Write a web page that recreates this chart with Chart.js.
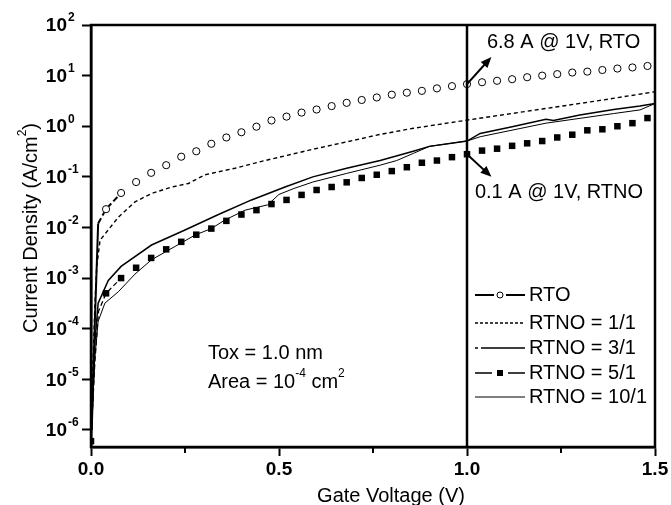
<!DOCTYPE html>
<html>
<head>
<meta charset="utf-8">
<script src="https://cdn.jsdelivr.net/npm/chart.js@4.4.1/dist/chart.umd.min.js"></script>
<style>
html,body{margin:0;padding:0;background:#fff;}
</style>
</head>
<body>
<canvas id="chart1" width="671" height="505"></canvas>
<script>
// RTO: open circles every 0.04 V (first 3 points are the short line near 0 V)
var rtoV = [0.002,0.01,0.019,0.04,0.08,0.12,0.16,0.20,0.24,0.28,0.32,0.36,0.40,0.44,0.48,0.52,0.56,0.60,0.64,0.68,0.72,0.76,0.80,0.84,0.88,0.92,0.96,1.00,1.04,1.08,1.12,1.16,1.20,1.24,1.28,1.32,1.36,1.40,1.44,1.48];
var rtoJ = [1e-6,1.2e-4,0.012,0.023,0.048,0.079,0.12,0.17,0.25,0.32,0.45,0.60,0.76,0.98,1.3,1.55,1.86,2.14,2.5,2.9,3.3,3.7,4.2,4.6,5.0,5.6,6.2,6.8,7.4,7.9,8.5,9.3,10.0,10.7,11.5,12.0,12.9,13.8,14.5,15.5];

// RTNO = 1/1 (dashed)
var r11V = [0,0.005,0.01,0.015,0.024,0.073,0.117,0.161,0.215,0.259,0.303,0.383,0.463,0.516,0.59,0.68,0.769,0.857,1.0,1.2,1.35,1.5];
var r11J = [6e-7,1.6e-5,2.5e-4,1.6e-3,5.6e-3,0.016,0.032,0.047,0.063,0.074,0.11,0.148,0.21,0.26,0.35,0.49,0.69,0.91,1.32,2.19,3.2,4.8];

// RTNO = 3/1
var r31V = [0,0.01,0.019,0.046,0.08,0.161,0.25,0.339,0.427,0.516,0.59,0.68,0.769,0.857,0.90,1.0,1.035,1.12,1.21,1.23,1.30,1.39,1.46,1.5];
var r31J = [6e-7,5e-5,3.2e-4,9e-4,1.7e-3,4.5e-3,8.9e-3,0.018,0.035,0.063,0.10,0.148,0.21,0.32,0.40,0.51,0.72,0.98,1.38,1.3,1.66,2.14,2.5,2.8];

// RTNO = 5/1: filled squares every 0.04 V (index 1,2 only carry the line near 0 V)
var r51V = [0,0.01,0.02,0.04,0.08,0.12,0.16,0.20,0.24,0.28,0.32,0.36,0.40,0.44,0.48,0.52,0.56,0.60,0.64,0.68,0.72,0.76,0.80,0.84,0.88,0.92,0.96,1.00,1.04,1.08,1.12,1.16,1.20,1.24,1.28,1.32,1.36,1.40,1.44,1.48];
var r51J = [6e-7,2e-5,2.2e-4,5.0e-4,1.0e-3,1.6e-3,2.5e-3,3.7e-3,5.2e-3,7.2e-3,9.5e-3,0.0135,0.018,0.022,0.029,0.035,0.044,0.055,0.063,0.078,0.095,0.11,0.13,0.155,0.19,0.21,0.245,0.28,0.33,0.36,0.41,0.46,0.51,0.60,0.68,0.83,0.87,1.0,1.15,1.45];

// RTNO = 10/1
var r101V = [0,0.01,0.019,0.037,0.073,0.117,0.161,0.223,0.277,0.32,0.356,0.41,0.47,0.5,0.54,0.59,0.68,0.769,0.813,0.857,0.90,1.0,1.035,1.21,1.39,1.46,1.5];
var r101J = [6e-7,2.5e-5,1.4e-4,3.2e-4,5.4e-4,1.2e-3,2.3e-3,4.2e-3,7.1e-3,9.5e-3,0.014,0.022,0.028,0.045,0.059,0.079,0.117,0.17,0.21,0.29,0.40,0.51,0.62,1.15,1.78,2.1,2.8];

var decades = [1e-6,1e-5,1e-4,1e-3,1e-2,1e-1,1,10,100];
var decadeExp = ['-6','-5','-4','-3','-2','-1','0','1','2'];
var xMinor = [0.25,0.75,1.25];
var markV = 1.0;          // vertical line
var rtoAt1 = 6.8, rtnoAt1 = 0.28;

Chart.defaults.font.family = "'Liberation Sans', Arial, sans-serif";
Chart.defaults.color = '#000';

function pts(vs, js){
    return vs.map(function(v, i){ return {x: v, y: js[i]}; });
}

// text with superscripts: parts = [[text, isSup], ...]
function richWidth(ctx, parts, size, weight){
    var w = 0;
    parts.forEach(function(p){
        ctx.font = weight + ' ' + (p[1] ? Math.round(size*0.62) : size) + "px 'Liberation Sans', Arial, sans-serif";
        w += ctx.measureText(p[0]).width;
    });
    return w;
}
function drawRich(ctx, parts, x, y, size, weight){
    ctx.textBaseline = 'middle';
    ctx.textAlign = 'left';
    parts.forEach(function(p){
        var s = p[1] ? Math.round(size*0.62) : size;
        ctx.font = weight + ' ' + s + "px 'Liberation Sans', Arial, sans-serif";
        ctx.fillText(p[0], x, p[1] ? y - size*0.42 : y);
        x += ctx.measureText(p[0]).width;
    });
}
function arrow(ctx, x0, y0, x1, y1){
    var ang = Math.atan2(y1 - y0, x1 - x0), L = 11, W = 4.5;
    ctx.beginPath(); ctx.moveTo(x0, y0);
    ctx.lineTo(x1 - L*0.8*Math.cos(ang), y1 - L*0.8*Math.sin(ang)); ctx.stroke();
    ctx.beginPath(); ctx.moveTo(x1, y1);
    ctx.lineTo(x1 - L*Math.cos(ang) + W*Math.sin(ang), y1 - L*Math.sin(ang) - W*Math.cos(ang));
    ctx.lineTo(x1 - L*Math.cos(ang) - W*Math.sin(ang), y1 - L*Math.sin(ang) + W*Math.cos(ang));
    ctx.closePath(); ctx.fill();
}

var decor = {
    id: 'decor',
    afterDraw: function(chart){
        var ctx = chart.ctx, a = chart.chartArea, xs = chart.scales.x, ys = chart.scales.y;
        ctx.save();
        ctx.fillStyle = '#000'; ctx.strokeStyle = '#000';

        // frame
        ctx.lineWidth = 2.5;
        ctx.strokeRect(a.left, a.top, a.right - a.left, a.bottom - a.top);

        // minor x ticks
        ctx.lineWidth = 2;
        xMinor.forEach(function(v){
            var px = xs.getPixelForValue(v);
            ctx.beginPath(); ctx.moveTo(px, a.bottom); ctx.lineTo(px, a.bottom + 6); ctx.stroke();
        });

        // y tick labels 10^n
        decades.forEach(function(v, i){
            var py = ys.getPixelForValue(v);
            ctx.font = "bold 19px 'Liberation Sans', Arial, sans-serif";
            ctx.textAlign = 'right'; ctx.textBaseline = 'middle';
            ctx.fillText('10', a.left - 24, py + 1);
            ctx.font = "bold 12px 'Liberation Sans', Arial, sans-serif";
            ctx.textAlign = 'left';
            ctx.fillText(decadeExp[i], a.left - 23, py - 7);
        });

        // axis titles
        ctx.fillStyle = '#000';
        var xt = [['Gate Voltage (V)', false]];
        var wx = richWidth(ctx, xt, 20, 'normal');
        drawRich(ctx, xt, 391 - wx/2, a.bottom + 49, 20, 'normal');
        var yt = [['Current Density (A/cm', false], ['2', true], [')', false]];
        var wy = richWidth(ctx, yt, 20, 'normal');
        ctx.save();
        ctx.translate(31, 228); ctx.rotate(-Math.PI/2);
        drawRich(ctx, yt, -wy/2, 0, 20, 'normal');
        ctx.restore();

        // vertical line at 1 V
        var x1 = xs.getPixelForValue(markV);
        ctx.lineWidth = 2.5;
        ctx.beginPath(); ctx.moveTo(x1, a.top); ctx.lineTo(x1, a.bottom); ctx.stroke();

        // arrows + notes
        ctx.lineWidth = 2;
        arrow(ctx, x1, ys.getPixelForValue(rtoAt1), xs.getPixelForValue(1.065), ys.getPixelForValue(23.4));
        arrow(ctx, x1, ys.getPixelForValue(rtnoAt1), xs.getPixelForValue(1.065), ys.getPixelForValue(0.1));
        drawRich(ctx, [['6.8 A @ 1V, RTO', false]], xs.getPixelForValue(1.053), ys.getPixelForValue(44.7), 20, 'normal');
        drawRich(ctx, [['0.1 A @ 1V, RTNO', false]], xs.getPixelForValue(1.021), ys.getPixelForValue(0.05), 20, 'normal');

        drawRich(ctx, [['Tox = 1.0 nm', false]], xs.getPixelForValue(0.311), ys.getPixelForValue(3.3e-5), 20, 'normal');
        drawRich(ctx, [['Area = 10', false], ['-4', true], [' cm', false], ['2', true]],
            xs.getPixelForValue(0.311), ys.getPixelForValue(8.7e-6), 20, 'normal');

        // legend
        var rows = [270, 298, 323, 348, 372];
        var lx0 = x1 + 8, lx1 = x1 + 58, tx = x1 + 62;
        var names = ['RTO', 'RTNO = 1/1', 'RTNO = 3/1', 'RTNO = 5/1', 'RTNO = 10/1'];
        rows.forEach(function(r, i){
            var y = a.top + r;
            ctx.setLineDash([]);
            if (i === 0) {
                ctx.lineWidth = 2;
                ctx.beginPath(); ctx.moveTo(lx0, y); ctx.lineTo(lx0 + 19, y);
                ctx.moveTo(lx1 - 19, y); ctx.lineTo(lx1, y); ctx.stroke();
                ctx.lineWidth = 1; ctx.fillStyle = '#fff';
                ctx.beginPath(); ctx.arc((lx0 + lx1)/2, y, 3, 0, Math.PI*2); ctx.fill(); ctx.stroke();
                ctx.fillStyle = '#000';
            } else if (i === 1) {
                ctx.lineWidth = 1.3; ctx.setLineDash([3, 2]);
                ctx.beginPath(); ctx.moveTo(lx0, y); ctx.lineTo(lx1, y); ctx.stroke();
            } else if (i === 2) {
                ctx.lineWidth = 1.5;
                ctx.beginPath(); ctx.moveTo(lx0, y); ctx.lineTo(lx0 + 3, y);
                ctx.moveTo(lx0 + 6, y); ctx.lineTo(lx1, y); ctx.stroke();
            } else if (i === 3) {
                ctx.lineWidth = 1.3;
                ctx.beginPath(); ctx.moveTo(lx0, y); ctx.lineTo(lx0 + 17, y);
                ctx.moveTo(lx1 - 17, y); ctx.lineTo(lx1, y); ctx.stroke();
                ctx.fillRect((lx0 + lx1)/2 - 3, y - 3, 6, 6);
            } else {
                ctx.lineWidth = 1;
                ctx.beginPath(); ctx.moveTo(lx0, y); ctx.lineTo(lx1, y); ctx.stroke();
            }
            drawRich(ctx, [[names[i], false]], tx, y, 20, 'normal');
        });
        ctx.restore();
    }
};

new Chart(document.getElementById('chart1'), {
    type: 'scatter',
    data: {
        datasets: [
            { label: 'RTO', data: pts(rtoV, rtoJ), showLine: true,
              borderColor: '#000', borderWidth: 2,
              pointStyle: 'circle',
              pointRadius: function(c){ return c.dataIndex < 3 ? 0 : 3.6; },
              pointBorderWidth: 1, pointBackgroundColor: '#fff', pointBorderColor: '#000',
              segment: {
                  borderColor: function(c){ return c.p0DataIndex < 4 ? '#000' : 'rgba(0,0,0,0)'; },
                  borderDash: function(c){ return c.p0DataIndex < 2 ? [] : [6, 3]; }
              } },
            { label: 'RTNO = 1/1', data: pts(r11V, r11J), showLine: true,
              borderColor: '#000', borderWidth: 1.4, borderDash: [4, 3], pointRadius: 0 },
            { label: 'RTNO = 3/1', data: pts(r31V, r31J), showLine: true,
              borderColor: '#000', borderWidth: 1.5, pointRadius: 0 },
            { label: 'RTNO = 5/1', data: pts(r51V, r51J), showLine: true,
              borderColor: '#000', borderWidth: 1.3,
              pointStyle: 'rect',
              pointRadius: function(c){ return (c.dataIndex === 1 || c.dataIndex === 2) ? 0 : 4.6; },
              pointBackgroundColor: '#000', pointBorderColor: '#000', pointBorderWidth: 0,
              segment: {
                  borderColor: function(c){ return c.p0DataIndex < 4 ? '#000' : 'rgba(0,0,0,0)'; },
                  borderDash: function(c){ return [5, 3]; }
              } },
            { label: 'RTNO = 10/1', data: pts(r101V, r101J), showLine: true,
              borderColor: '#000', borderWidth: 1, pointRadius: 0 }
        ]
    },
    options: {
        responsive: false,
        animation: false,
        layout: { padding: { top: 25, right: 16, left: 0, bottom: 0 } },
        plugins: { legend: { display: false }, tooltip: { enabled: false } },
        scales: {
            x: {
                type: 'linear', min: 0, max: 1.5,
                afterFit: function(s){ s.height = 58; },
                ticks: {
                    stepSize: 0.25, padding: 2,
                    font: { size: 19, weight: 'bold' },
                    callback: function(v){ return (Math.abs(v*2 - Math.round(v*2)) < 1e-6) ? v.toFixed(1) : ''; }
                },
                grid: {
                    drawOnChartArea: false, tickLength: 9, tickWidth: 2,
                    tickColor: function(c){ return (c.tick && Math.abs(c.tick.value*2 - Math.round(c.tick.value*2)) > 1e-6) ? 'rgba(0,0,0,0)' : '#000'; }
                },
                border: { display: true, color: '#000', width: 2.5 }
            },
            y: {
                type: 'logarithmic', min: 4.6e-7, max: 100,
                afterFit: function(s){ s.width = 91; },
                afterBuildTicks: function(s){ s.ticks = decades.map(function(v){ return {value: v}; }); },
                ticks: { display: false },
                grid: { drawOnChartArea: false, tickLength: 9, tickWidth: 2, tickColor: '#000' },
                border: { display: true, color: '#000', width: 2.5 }
            }
        }
    },
    plugins: [decor]
});
</script>
</body>
</html>
